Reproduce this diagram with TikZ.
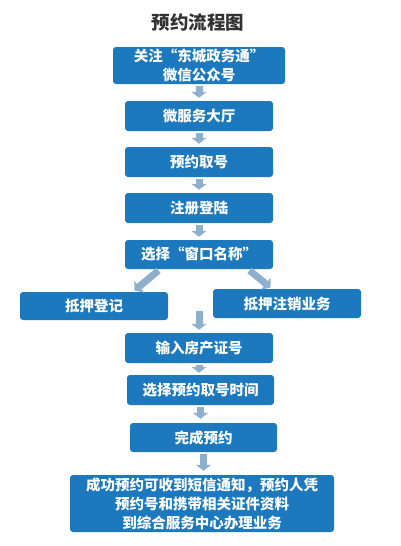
\documentclass[tikz,border=0pt]{standalone}
\usepackage{fontspec}
\newfontfamily\cjk{Noto Sans CJK SC}
\usetikzlibrary{arrows.meta,calc}
\definecolor{boxblue}{RGB}{28,121,190}
\definecolor{arrblue}{RGB}{142,176,205}
\definecolor{titlegray}{RGB}{50,50,50}
\tikzset{
  flowbox/.style={fill=boxblue, rounded corners=3pt, text=white, align=center,
    font=\cjk\bfseries\fontsize{14.5}{19}\selectfont, inner sep=0pt},
  arr/.style={draw=arrblue, line width=7pt, -{Triangle[width=15pt,length=6pt]}},
}
\begin{document}
\begin{tikzpicture}[x=1pt,y=-1pt]
\useasboundingbox (0,0) rectangle (400,546);
\node[font=\cjk\bfseries\fontsize{18.5}{20}\selectfont, text=titlegray] (title) at (198,23) {预约流程图};
\node[flowbox, minimum width=172pt, minimum height=37pt] (b1) at (199,65.5) {关注“东城政务通”\\微信公众号};
\node[flowbox, minimum width=148pt, minimum height=30pt] (b2) at (199,116) {微服务大厅};
\node[flowbox, minimum width=148pt, minimum height=30pt] (b3) at (199,162) {预约取号};
\node[flowbox, minimum width=148pt, minimum height=30pt] (b4) at (199,208) {注册登陆};
\node[flowbox, minimum width=148pt, minimum height=29pt] (b5) at (199,254.5) {选择“窗口名称”};
\node[flowbox, minimum width=148pt, minimum height=28pt] (b6) at (94,306) {抵押登记};
\node[flowbox, minimum width=148pt, minimum height=29pt] (b7) at (287,303.5) {抵押注销业务};
\coordinate (mid) at (199,311);
\node[flowbox, minimum width=148pt, minimum height=30pt] (b8) at (199,348) {输入房产证号};
\node[flowbox, minimum width=147pt, minimum height=30pt] (b9) at (200.5,390) {选择预约取号时间};
\node[flowbox, minimum width=147pt, minimum height=29pt] (b10) at (203.5,437.5) {完成预约};
\node[flowbox, minimum width=264pt, minimum height=57pt] (b11) at (202,503.5) {成功预约可收到短信通知，预约人凭\\预约号和携带相关证件资料\\到综合服务中心办理业务};
\draw[arr, shorten <=2pt, shorten >=3pt] (b1) -- (b2);
\draw[arr, shorten <=2pt, shorten >=3pt] (b2) -- (b3);
\draw[arr, shorten <=2pt, shorten >=3pt] (b3) -- (b4);
\draw[arr, shorten <=2pt, shorten >=3pt] (b4) -- (b5);
\draw[arr, shorten <=2pt, shorten >=2pt] ([xshift=-39pt]b5.south) -- ([xshift=39pt]b6.north);
\draw[arr, shorten <=2pt, shorten >=2pt] ([xshift=49pt]b5.south) -- ([xshift=-15pt]b7.north);
\draw[arr, shorten >=3pt] (mid) -- (b8);
\draw[arr, shorten <=2pt, shorten >=2pt] (b8.south) -- (b8.south |- b9.north);
\draw[arr, shorten <=2pt, shorten >=4pt] (b9.south) -- (b9.south |- b10.north);
\draw[arr, shorten <=2pt, shorten >=4pt] (b10.south) -- (b10.south |- b11.north);
\end{tikzpicture}
\end{document}
